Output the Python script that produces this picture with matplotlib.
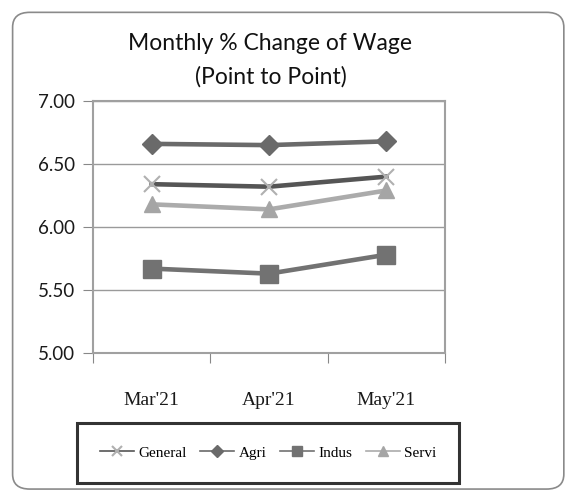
import matplotlib
matplotlib.use("Agg")
import matplotlib.pyplot as plt
from matplotlib.patches import FancyBboxPatch

months = ["Mar'21", "Apr'21", "May'21"]
general = [6.34, 6.32, 6.40]
agri = [6.66, 6.65, 6.68]
indus = [5.67, 5.63, 5.78]
servi = [6.18, 6.14, 6.29]
yticks = [5.00, 5.50, 6.00, 6.50, 7.00]

fig = plt.figure(figsize=(5.73, 4.94), dpi=100)
fig.patch.set_facecolor("white")

# outer rounded frame
frame = FancyBboxPatch((0.022, 0.01), 0.962, 0.965,
                       boxstyle="round,pad=0,rounding_size=0.03",
                       transform=fig.transFigure, facecolor="none",
                       edgecolor="#8a8a8a", linewidth=1.2)
fig.patches.append(frame)

ax = fig.add_axes([0.1623, 0.2854, 0.6143, 0.5101])
x = list(range(len(months)))

ax.plot(x, general, color="#555555", lw=3.3, marker="x", ms=11, mew=1.5,
        mec="#b0b0b0", label="General", zorder=3)
ax.plot(x, agri, color="#6a6a6a", lw=3.3, marker="D", ms=10, mfc="#6a6a6a",
        mec="#6a6a6a", label="Agri", zorder=3)
ax.plot(x, indus, color="#727272", lw=3.3, marker="s", ms=13, mfc="#727272",
        mec="#727272", label="Indus", zorder=3)
ax.plot(x, servi, color="#ababab", lw=3.3, marker="^", ms=11, mfc="#a5a5a5",
        mec="#a5a5a5", label="Servi", zorder=3)

ax.set_xlim(-0.5, 2.5)
ax.set_ylim(5.0, 7.0)
ax.set_yticks(yticks)
ax.set_yticklabels([f"{v:.2f}" for v in yticks], fontsize=13.5,
                   family="Lato", color="#1a1a1a")
ax.yaxis.grid(True, color="#9a9a9a", lw=1)
ax.set_axisbelow(True)

# category axis: ticks at boundaries, labels at centers
ax.set_xticks([-0.5, 0.5, 1.5, 2.5])
ax.set_xticklabels([])
ax.set_xticks(x, minor=True)
ax.set_xticklabels(months, minor=True, fontsize=14, family="Liberation Serif",
                   color="#1a1a1a")
ax.tick_params(axis="x", which="major", length=7, color="#888888", direction="out")
ax.tick_params(axis="x", which="minor", length=0, pad=28)
ax.tick_params(axis="y", length=7, color="#888888", pad=6)

for s in ax.spines.values():
    s.set_color("#a0a0a0")
    s.set_linewidth(1.5)

fig.text(0.472, 0.912, "Monthly % Change of Wage", ha="center", va="center",
         fontsize=16.5, family="Lato", color="#111111")
fig.text(0.472, 0.845, "(Point to Point)", ha="center", va="center",
         fontsize=16.5, family="Lato", color="#111111")

leg = fig.legend(loc="center", bbox_to_anchor=(0.468, 0.083), ncol=4,
                 prop={"family": "Liberation Serif", "size": 11},
                 handlelength=2.2, handletextpad=0.3, columnspacing=0.9,
                 frameon=True, fancybox=False, borderpad=1.5, markerscale=0.6)
leg.get_frame().set_edgecolor("black")
leg.get_frame().set_linewidth(2.2)
for h in leg.get_lines():
    h.set_linewidth(1.2)

fig.savefig("out.png", dpi=100)
